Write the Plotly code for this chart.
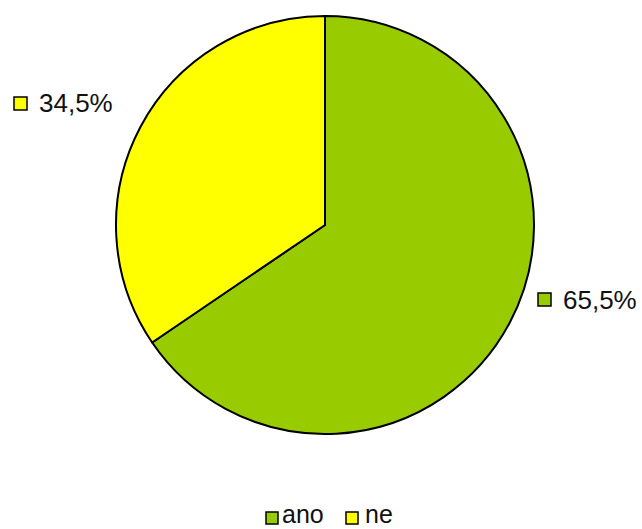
import plotly.graph_objects as go

# Survey answers and their shares (percent)
categories = ["ano", "ne"]
shares = [65.5, 34.5]
share_labels = ["65,5%", "34,5%"]
colors = ["#99CC00", "#FFFF00"]

W, H = 642, 529
FONT = "Liberation Sans, Arial, sans-serif"

fig = go.Figure(
    go.Pie(
        labels=categories,
        values=shares,
        sort=False,
        direction="clockwise",
        rotation=0,
        textinfo="none",
        hoverinfo="label+percent",
        marker=dict(colors=colors, line=dict(color="#000000", width=2)),
        domain=dict(x=[116 / W, 534 / W], y=[(H - 434) / H, (H - 16) / H]),
        showlegend=False,
    )
)


def px_x(x):
    return x / W


def px_y(y):
    return 1 - y / H


shapes = []
annotations = []


def key(x, y, size, color, text, tx, fs, bottom=False):
    """Square colour key with a text label to its right (pixel positions)."""
    shapes.append(
        dict(
            type="rect", xref="paper", yref="paper",
            x0=px_x(x), x1=px_x(x + size), y0=px_y(y + size), y1=px_y(y),
            fillcolor=color, line=dict(color="#000000", width=1.5),
        )
    )
    ann = dict(
        text=text, xref="paper", yref="paper",
        x=px_x(tx), xanchor="left",
        showarrow=False, font=dict(family=FONT, size=fs, color="#111111"),
    )
    if bottom:
        ann.update(y=0, yanchor="bottom", borderpad=0)
    else:
        ann.update(y=px_y(y + size / 2), yanchor="middle")
    annotations.append(ann)


# Slice value labels
key(538, 293, 13, colors[0], share_labels[0], 561, 26)
key(14, 97, 13, colors[1], share_labels[1], 37, 26)

# Legend row
key(266, 512, 12, colors[0], categories[0], 281, 25, bottom=True)
key(346, 512, 12, colors[1], categories[1], 364, 25, bottom=True)

fig.update_layout(
    width=W,
    height=H,
    margin=dict(l=0, r=0, t=0, b=0),
    paper_bgcolor="#FFFFFF",
    plot_bgcolor="#FFFFFF",
    shapes=shapes,
    annotations=annotations,
)

fig.write_html("out.html")
